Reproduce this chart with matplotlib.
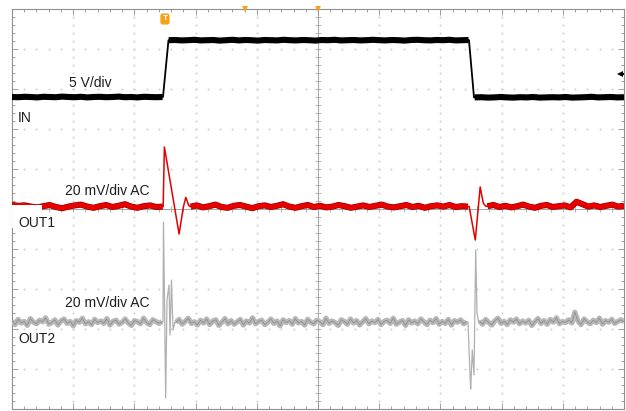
import numpy as np
import matplotlib
matplotlib.use('Agg')
import matplotlib.pyplot as plt
from matplotlib.patches import Rectangle

plt.rcParams['font.family'] = ['Liberation Sans', 'DejaVu Sans']

# ---------------- data (screen divisions: x 0..10, y 0..10) ----------------
# IN channel (5 V/div)
in_a_y = [7.80, 7.795, 7.805, 7.80, 7.79, 7.805, 7.80, 7.795, 7.81, 7.80, 7.795, 7.805, 7.79,
          7.80, 7.805, 7.795, 7.80, 7.81, 7.795, 7.80, 7.79, 7.805, 7.80, 7.795, 7.80]
in_rise_x = [2.467, 2.557]
in_rise_y = [7.80, 9.22]
in_b_y = [9.22, 9.225, 9.215, 9.22, 9.23, 9.215, 9.22, 9.225, 9.21, 9.22, 9.23, 9.215, 9.225,
          9.22, 9.21, 9.225, 9.22, 9.215, 9.23, 9.22, 9.215, 9.225, 9.22, 9.21, 9.225, 9.22,
          9.23, 9.215, 9.22, 9.225, 9.215, 9.22, 9.23, 9.22, 9.215, 9.225, 9.22, 9.21, 9.225,
          9.23, 9.22, 9.215, 9.225, 9.22, 9.23, 9.215, 9.22, 9.225]
in_fall_x = [7.467, 7.549]
in_fall_y = [9.22, 7.79]
in_c_y = [7.79, 7.795, 7.785, 7.79, 7.80, 7.79, 7.785, 7.795, 7.79, 7.80, 7.785, 7.79, 7.795,
          7.79, 7.80, 7.785, 7.79, 7.795, 7.805, 7.79, 7.795, 7.80, 7.79, 7.795]

# OUT1 channel (20 mV/div AC)
out1_a_y = [5.10, 5.08, 5.09, 5.06, 5.04, 5.07, 5.10, 5.05, 5.02, 5.06, 5.09, 5.11, 5.06,
            5.03, 5.07, 5.10, 5.05, 5.08, 5.12, 5.06, 5.03, 5.07, 5.09, 5.05, 5.06]
out1_sp1_x = [2.470, 2.490, 2.730, 2.800, 2.840, 2.890]
out1_sp1_y = [5.06, 6.55, 4.375, 5.05, 5.29, 5.08]
out1_b_y = [5.06, 5.09, 5.04, 5.07, 5.11, 5.05, 5.03, 5.08, 5.10, 5.06, 5.02, 5.07, 5.09,
            5.05, 5.08, 5.12, 5.06, 5.03, 5.07, 5.10, 5.05, 5.08, 5.04, 5.06, 5.10, 5.07,
            5.03, 5.06, 5.09, 5.05, 5.08, 5.11, 5.06, 5.04, 5.07, 5.10, 5.05, 5.08, 5.03,
            5.07, 5.09, 5.06, 5.10, 5.05, 5.07, 5.06]
out1_sp2_x = [7.470, 7.570, 7.650, 7.700, 7.740]
out1_sp2_y = [5.06, 4.225, 5.55, 5.15, 5.07]
out1_c_y = [5.07, 5.10, 5.05, 5.08, 5.04, 5.07, 5.11, 5.06, 5.03, 5.08, 5.10, 5.05, 5.07,
            5.09, 5.04, 5.18, 5.12, 5.06, 5.09, 5.05, 5.08, 5.11, 5.06, 5.08]

# OUT2 channel (20 mV/div AC)
out2_a_y = [2.20, 2.11, 2.24, 2.15, 2.19, 2.09, 2.26, 2.17, 2.13, 2.22,
            2.18, 2.28, 2.12, 2.16, 2.23, 2.10, 2.20, 2.25, 2.14, 2.19,
            2.08, 2.21, 2.17, 2.27, 2.13, 2.18, 2.11, 2.24, 2.16, 2.20,
            2.14, 2.26, 2.10, 2.19, 2.22, 2.12, 2.17, 2.25, 2.15, 2.09,
            2.21, 2.18, 2.13, 2.27, 2.16, 2.11, 2.23, 2.19, 2.14, 2.18]
out2_sp1_x = [2.467, 2.475, 2.492, 2.511, 2.533, 2.565, 2.582, 2.606, 2.631, 2.663]
out2_sp1_y = [2.17, 4.675, 2.725, 0.275, 2.725, 3.10, 1.85, 3.225, 1.975, 2.17]
out2_b_y = [2.16, 2.24, 2.12, 2.19, 2.27, 2.14, 2.18, 2.10, 2.22, 2.15,
            2.25, 2.11, 2.20, 2.23, 2.09, 2.17, 2.26, 2.13, 2.21, 2.12,
            2.18, 2.24, 2.10, 2.20, 2.15, 2.28, 2.13, 2.19, 2.22, 2.11,
            2.17, 2.25, 2.14, 2.20, 2.08, 2.23, 2.16, 2.21, 2.12, 2.26,
            2.15, 2.19, 2.10, 2.24, 2.17, 2.13, 2.22, 2.18, 2.11, 2.27,
            2.14, 2.20, 2.16, 2.09, 2.23, 2.19, 2.12, 2.25, 2.15, 2.21,
            2.10, 2.18, 2.26, 2.13, 2.20, 2.16, 2.24, 2.11, 2.19, 2.22,
            2.14, 2.27, 2.12, 2.17, 2.21, 2.09, 2.23, 2.15, 2.20, 2.13,
            2.25, 2.18, 2.11, 2.22, 2.16, 2.26, 2.12, 2.19, 2.14, 2.24,
            2.10, 2.21, 2.17, 2.23, 2.13, 2.18]
out2_sp2_x = [7.451, 7.484, 7.495, 7.521, 7.549, 7.577, 7.598, 7.623]
out2_sp2_y = [2.17, 0.85, 0.50, 1.475, 0.85, 3.975, 2.40, 2.17]
out2_c_y = [2.20, 2.12, 2.24, 2.16, 2.10, 2.21, 2.27, 2.14, 2.19, 2.11,
            2.23, 2.17, 2.25, 2.13, 2.20, 2.15, 2.22, 2.09, 2.18, 2.26,
            2.14, 2.21, 2.12, 2.24, 2.17, 2.28, 2.13, 2.19, 2.16, 2.23,
            2.15, 2.42, 2.20, 2.11, 2.25, 2.18, 2.13, 2.22, 2.16, 2.27,
            2.12, 2.21, 2.17, 2.24, 2.14, 2.19, 2.23, 2.18]

labels = [
    (0.93, 8.05, '5 V/div'),
    (0.10, 7.175, 'IN'),
    (0.866, 5.35, '20 mV/div AC'),
    (0.10, 4.55, 'OUT1'),
    (0.866, 2.55, '20 mV/div AC'),
    (0.10, 1.65, 'OUT2'),
]

# sample times of the quiet stretches
in_a_x = np.linspace(0.0, 2.46, len(in_a_y))
in_b_x = np.linspace(2.56, 7.46, len(in_b_y))
in_c_x = np.linspace(7.56, 10.0, len(in_c_y))
out1_a_x = np.linspace(0.0, 2.46, len(out1_a_y))
out1_b_x = np.linspace(2.92, 7.45, len(out1_b_y))
out1_c_x = np.linspace(7.77, 10.0, len(out1_c_y))
out2_a_x = np.linspace(0.0, 2.45, len(out2_a_y))
out2_b_x = np.linspace(2.68, 7.43, len(out2_b_y))
out2_c_x = np.linspace(7.64, 10.0, len(out2_c_y))

# ---------------- figure ----------------
fig = plt.figure(figsize=(6.26, 4.11), dpi=100)
ax = fig.add_axes([12 / 626, 2 / 411, 612 / 626, 400 / 411])
ax.set_xlim(0, 10)
ax.set_ylim(0, 10)

gcol = '#8f8f8f'
for s in ax.spines.values():
    s.set_color(gcol)
    s.set_linewidth(0.8)
ax.set_xticks(np.arange(0, 11, 1))
ax.set_yticks(np.arange(0, 11, 1))
ax.set_xticks(np.arange(0, 10.01, 0.2), minor=True)
ax.set_yticks(np.arange(0, 10.01, 0.2), minor=True)
ax.tick_params(which='both', direction='in', top=True, right=True,
               labelbottom=False, labelleft=False, color=gcol, width=0.6)
ax.tick_params(which='major', length=4)
ax.tick_params(which='minor', length=2.5)

# dotted graticule
minor_pos = np.arange(0.2, 10.0, 0.2)
dotc = '#c4c4c4'
for i in [1, 2, 3, 4, 6, 7, 8, 9]:
    ax.plot([i] * len(minor_pos), minor_pos, ls='none', marker='s', ms=1.1, mew=0,
            color=dotc, zorder=1)
    ax.plot(minor_pos, [i] * len(minor_pos), ls='none', marker='s', ms=1.1, mew=0,
            color=dotc, zorder=1)

# centre cross with ticks
ax.axhline(5, color='#a6a6a6', lw=0.7, zorder=1)
ax.axvline(5, color='#a6a6a6', lw=0.7, zorder=1)
ax.plot(minor_pos, [5] * len(minor_pos), ls='none', marker='|', ms=4, mew=0.6,
        color='#a6a6a6', zorder=1)
ax.plot([5] * len(minor_pos), minor_pos, ls='none', marker='_', ms=4, mew=0.6,
        color='#a6a6a6', zorder=1)

# ---------------- traces ----------------
# OUT2
o2x = np.concatenate([out2_a_x, out2_sp1_x, out2_b_x, out2_sp2_x, out2_c_x])
o2y = np.concatenate([out2_a_y, out2_sp1_y, out2_b_y, out2_sp2_y, out2_c_y])
ax.plot(o2x, o2y, color='#b0b0b0', lw=0.9, zorder=3)
for xs, ys in [(out2_a_x, out2_a_y), (out2_b_x, out2_b_y), (out2_c_x, out2_c_y)]:
    ax.plot(xs, ys, color='#b8b8b8', lw=3.8, zorder=3, solid_capstyle='butt')
    ax.plot(xs, ys, color='#8e8e8e', lw=0.6, zorder=3)

# OUT1
o1x = np.concatenate([out1_a_x, out1_sp1_x, out1_b_x, out1_sp2_x, out1_c_x])
o1y = np.concatenate([out1_a_y, out1_sp1_y, out1_b_y, out1_sp2_y, out1_c_y])
ax.plot(o1x, o1y, color='#e20000', lw=1.1, zorder=4)
for xs, ys in [(out1_a_x, out1_a_y), (out1_b_x, out1_b_y), (out1_c_x, out1_c_y)]:
    ax.plot(xs, ys, color='#8a0000', lw=4.4, zorder=4, solid_capstyle='butt')
    ax.plot(xs, ys, color='#e60000', lw=3.6, zorder=4, solid_capstyle='butt')

# IN
ix = np.concatenate([in_a_x, in_rise_x, in_b_x, in_fall_x, in_c_x])
iy = np.concatenate([in_a_y, in_rise_y, in_b_y, in_fall_y, in_c_y])
ax.plot(ix, iy, color='black', lw=1.3, zorder=5)
for xs, ys in [(in_a_x, in_a_y), (in_b_x, in_b_y), (in_c_x, in_c_y)]:
    ax.plot(xs, ys, color='black', lw=4.4, zorder=5, solid_capstyle='butt')

# white patch behind OUT1 label
ax.add_patch(Rectangle((0.0, 4.52), 0.49, 0.57, facecolor='white', edgecolor='none',
                       zorder=6))

for x, y, t in labels:
    ax.text(x, y, t, fontsize=10, color='#1e1e1e', va='baseline', ha='left', zorder=7)

# markers
orange = '#f5a21b'
ax.text(2.5, 9.75, 'T', ha='center', va='center', fontsize=6, color='white',
        fontweight='bold', zorder=8,
        bbox=dict(boxstyle='round,pad=0.25,rounding_size=0.3', fc=orange, ec='none'))
ax.plot([3.807, 5.0], [9.99, 9.99], ls='none', marker='v', ms=5, color=orange,
        mew=0, clip_on=False, zorder=8)
ax.plot([9.935], [8.375], ls='none', marker='<', ms=5, color='black', mew=0, zorder=8)
ax.plot([9.935, 9.985], [8.375, 8.375], color='black', lw=1.5, zorder=8)

fig.savefig('out.png', dpi=100)
